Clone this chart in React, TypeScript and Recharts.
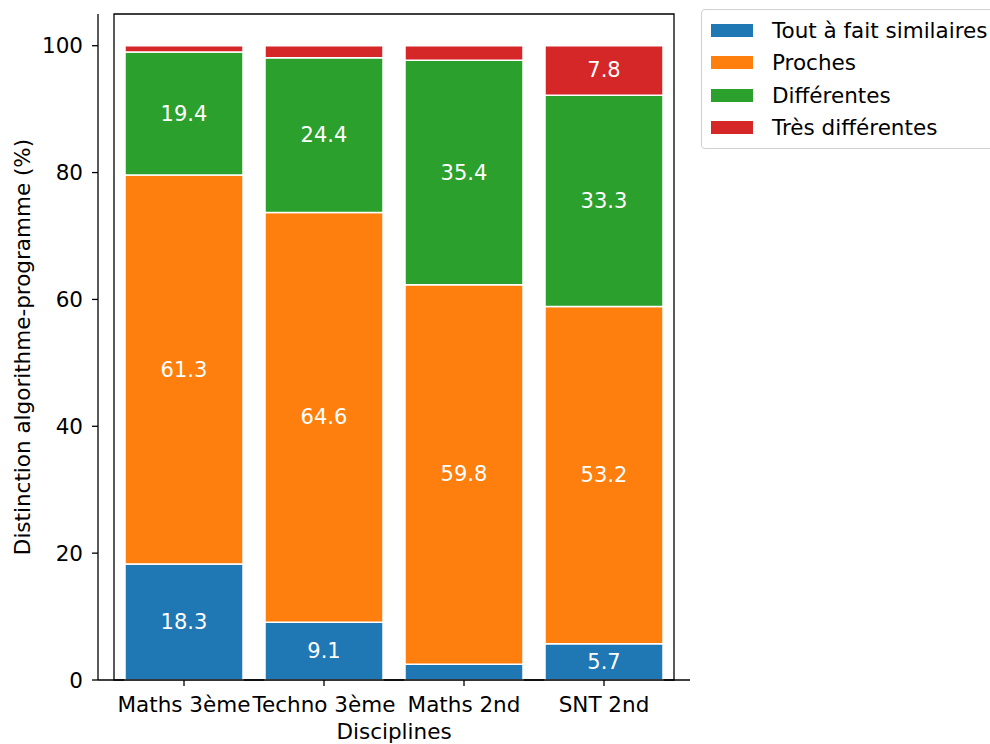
import React from 'react';
import {
  BarChart,
  Bar,
  XAxis,
  YAxis,
  LabelList,
  ReferenceArea,
} from 'recharts';

const categories = ['Maths 3ème', 'Techno 3ème', 'Maths 2nd', 'SNT 2nd'];
const similaires = [18.3, 9.1, 2.5, 5.7];
const proches = [61.3, 64.6, 59.8, 53.2];
const differentes = [19.4, 24.4, 35.4, 33.3];
const tresDifferentes = [1.0, 1.9, 2.3, 7.8];
const yTicks = [0, 20, 40, 60, 80, 100];

const series = [
  { key: 'similaires', name: 'Tout à fait similaires', color: '#1f77b4' },
  { key: 'proches', name: 'Proches', color: '#ff7f0e' },
  { key: 'differentes', name: 'Différentes', color: '#2ca02c' },
  { key: 'tresDifferentes', name: 'Très différentes', color: '#d62728' },
];

const data = categories.map((c, i) => ({
  name: c,
  similaires: similaires[i],
  proches: proches[i],
  differentes: differentes[i],
  tresDifferentes: tresDifferentes[i],
}));

const FONT = '"DejaVu Sans", sans-serif';
const AXIS_FS = 21.5;

// n'affiche que les valeurs assez grandes
const renderValue = (props: any) => {
  const { x, y, width, height, value } = props;
  if (value < 4) return null;
  return (
    <text
      x={x + width / 2}
      y={y + height / 2}
      textAnchor="middle"
      dominantBaseline="central"
      fill="#fff"
      fontSize={21}
      fontFamily={FONT}
    >
      {value}
    </text>
  );
};

const LegendBox = () => (
  <div
    style={{
      position: 'absolute',
      left: 701,
      top: 9,
      border: '1.5px solid #d0d0d0',
      borderRadius: 4,
      background: '#fff',
      padding: '4px 0 4px 0',
      width: 320,
      fontFamily: FONT,
      fontSize: AXIS_FS,
      color: '#000',
    }}
  >
    {series.map((s) => (
      <div key={s.key} style={{ display: 'flex', alignItems: 'center', height: 32.5 }}>
        <div style={{ width: 42, height: 13, background: s.color, marginLeft: 9, marginRight: 19 }} />
        <span style={{ whiteSpace: 'nowrap' }}>{s.name}</span>
      </div>
    ))}
  </div>
);

const YLabel = (props: any) => {
  const { viewBox } = props;
  const cy = viewBox.y + viewBox.height / 2;
  return (
    <text
      x={22}
      y={cy}
      transform={`rotate(-90, 22, ${cy})`}
      textAnchor="middle"
      dominantBaseline="central"
      fontSize={AXIS_FS}
      fontFamily={FONT}
      fill="#000"
    >
      Distinction algorithme-programme (%)
    </text>
  );
};

const XLabel = (props: any) => {
  const { viewBox } = props;
  const cx = viewBox.x + viewBox.width / 2;
  return (
    <text x={cx} y={739} textAnchor="middle" fontSize={AXIS_FS} fontFamily={FONT} fill="#000">
      Disciplines
    </text>
  );
};

export default function App() {
  return (
    <div style={{ position: 'absolute', left: 0, top: 0, width: 990, height: 744, background: '#fff', overflow: 'hidden' }}>
      <BarChart
        width={990}
        height={744}
        data={data}
        margin={{ top: 14, right: 300, bottom: 0, left: 0 }}
        barCategoryGap={11}
      >
        <XAxis
          dataKey="name"
          padding={{ left: 16, right: 16 }}
          height={64}
          tickSize={6}
          tickMargin={11}
          stroke="#000"
          strokeWidth={1.3}
          tick={{ fill: '#000', fontSize: AXIS_FS, fontFamily: FONT }}
          interval={0}
          label={<XLabel />}
        />
        <YAxis
          domain={[0, 105]}
          ticks={yTicks}
          width={98}
          tickSize={6}
          tickMargin={9}
          stroke="#000"
          strokeWidth={1.3}
          tick={{ fill: '#000', fontSize: AXIS_FS, fontFamily: FONT }}
          label={<YLabel />}
        />
        {series.map((s) => (
          <Bar
            key={s.key}
            dataKey={s.key}
            name={s.name}
            stackId="a"
            fill={s.color}
            stroke="#fff"
            strokeWidth={1.5}
            isAnimationActive={false}
          >
            <LabelList dataKey={s.key} content={renderValue} />
          </Bar>
        ))}
        <ReferenceArea y1={0} y2={105} fill="none" stroke="#000" strokeWidth={1.3} ifOverflow="visible" />
      </BarChart>
      <LegendBox />
    </div>
  );
}
